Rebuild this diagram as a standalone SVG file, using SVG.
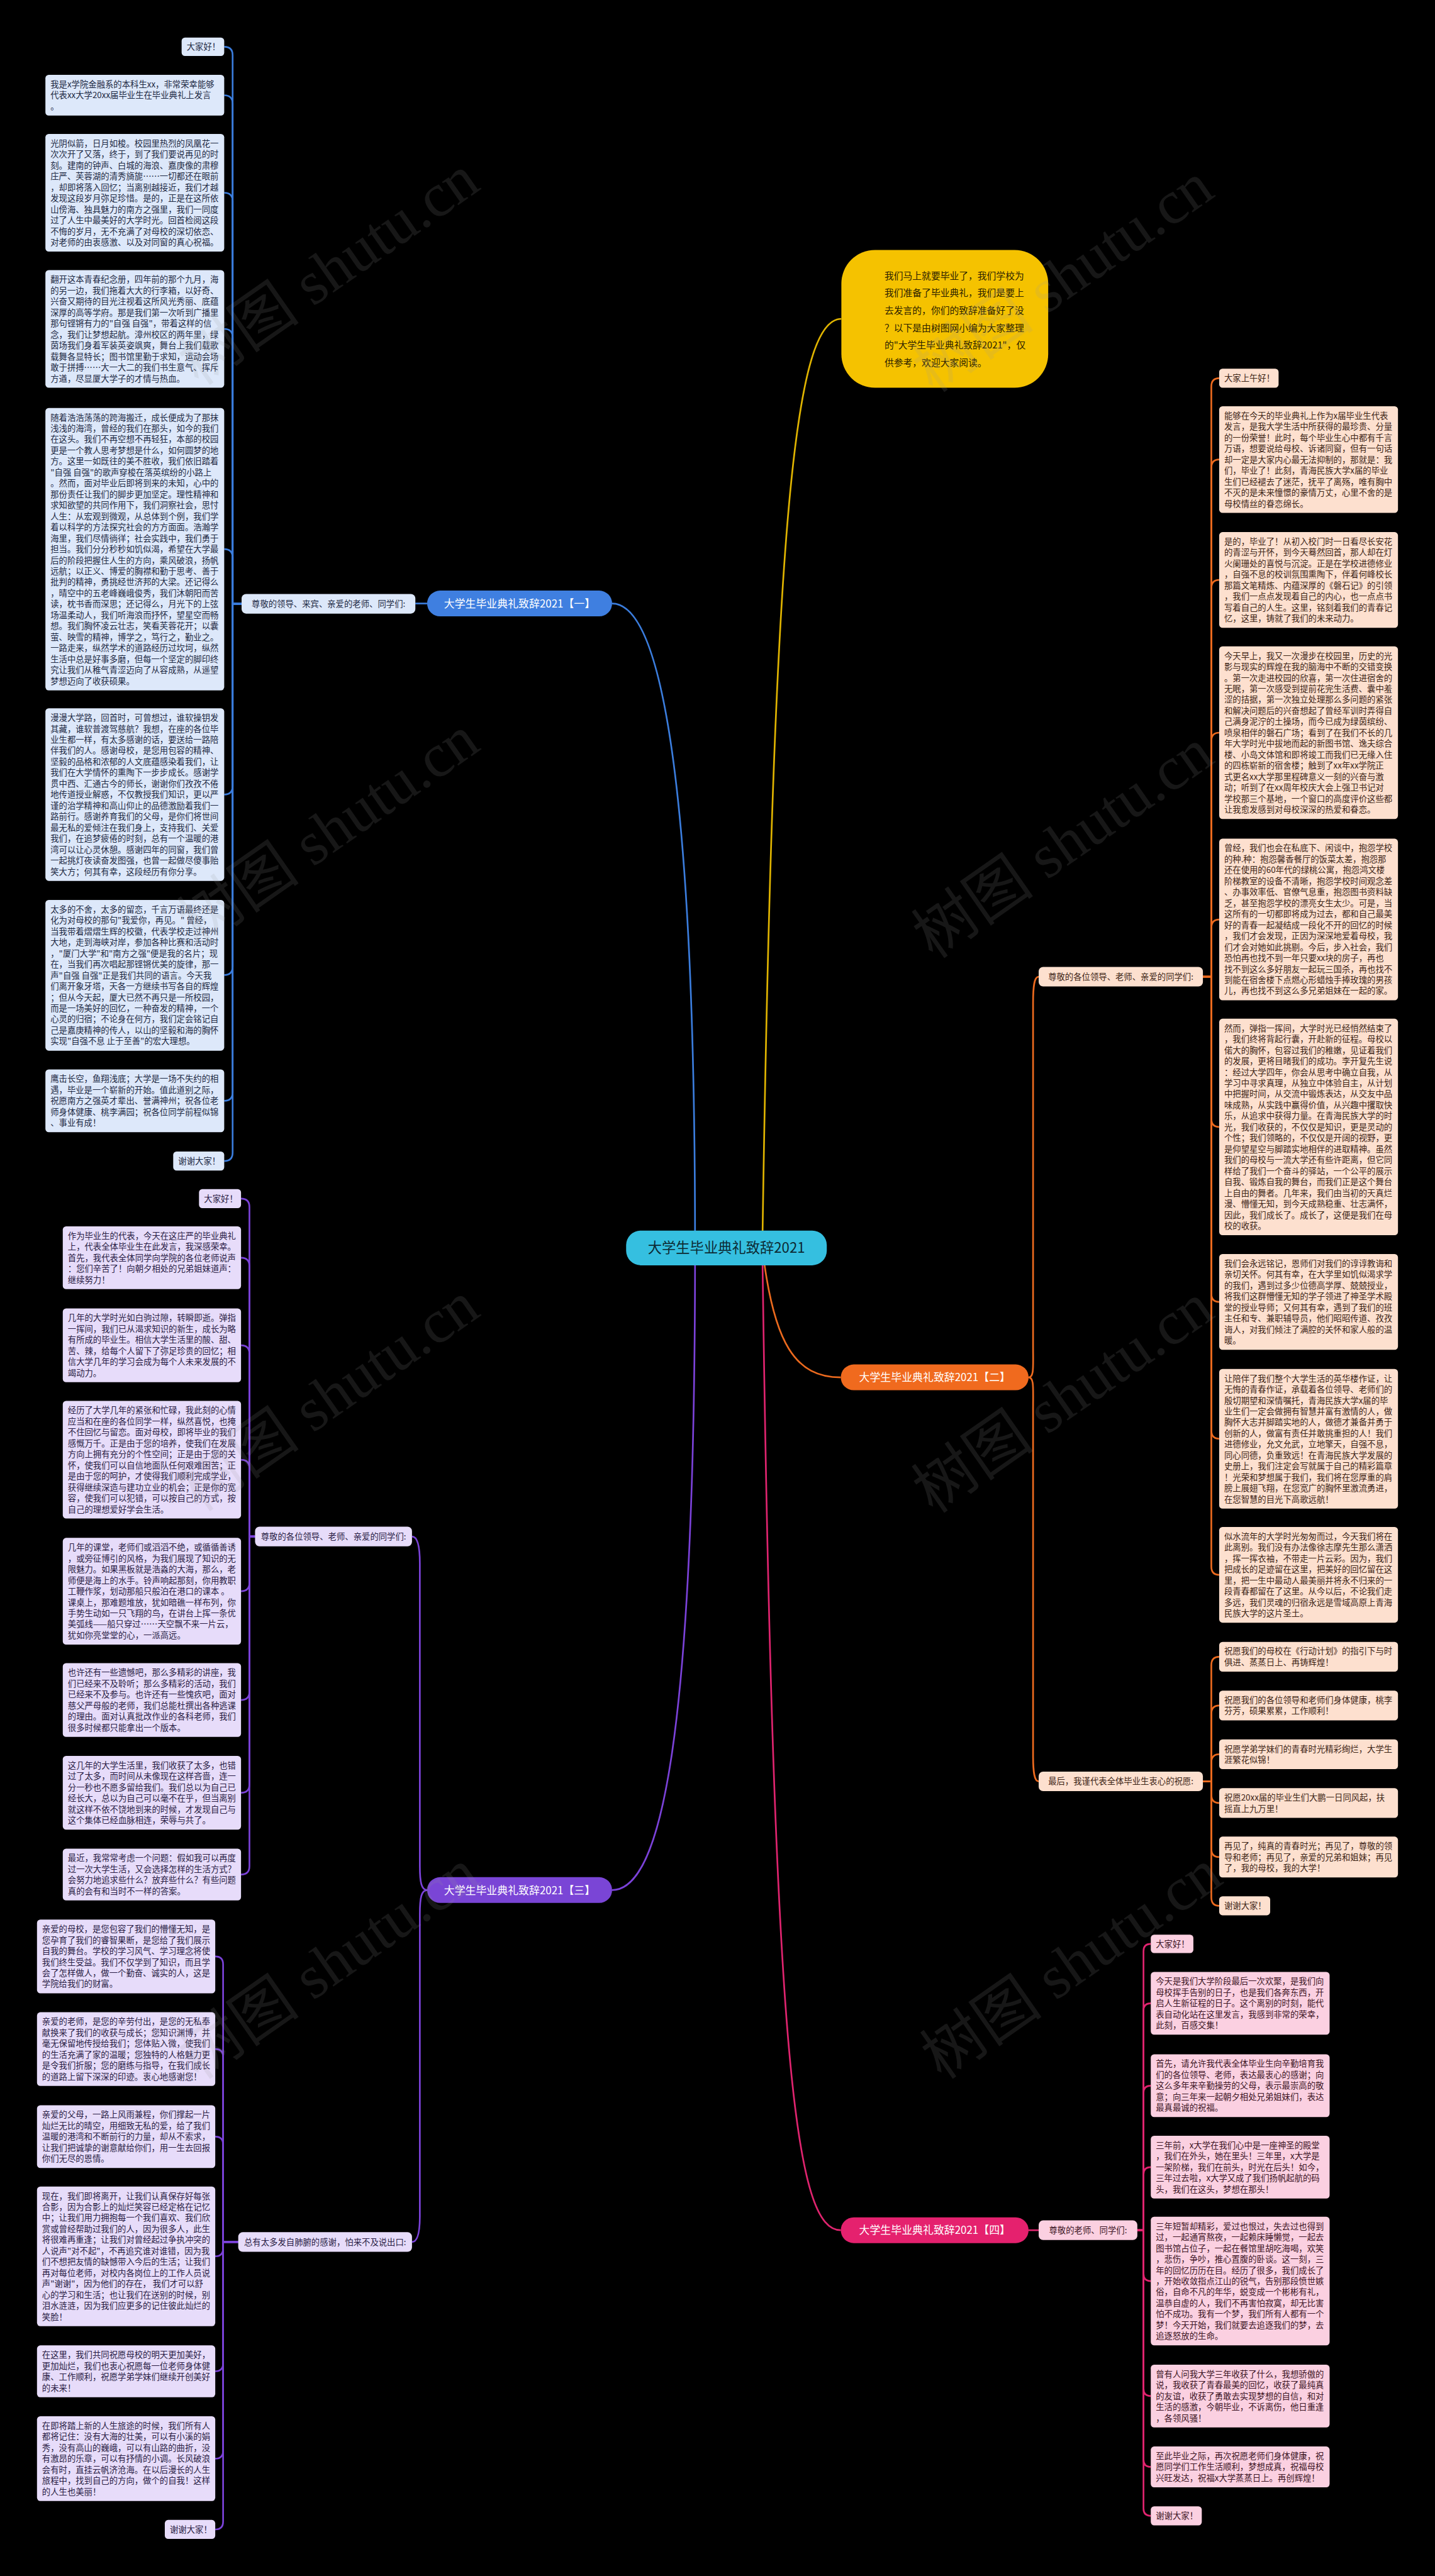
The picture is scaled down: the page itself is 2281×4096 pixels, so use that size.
<svg xmlns="http://www.w3.org/2000/svg" width="2281" height="4096" viewBox="0 0 2281 4096">
<style>
.t{font-family:"Noto Sans CJK SC","Noto Sans",sans-serif;font-size:15px}
.c1{fill:#1e2a44}.c2{fill:#3d2516}.c3{fill:#2a1d45}.c4{fill:#3d1525}
.b1{fill:#dde8fa}.b2{fill:#fde0cf}.b3{fill:#e7dcfa}.b4{fill:#fbd0e1}
.l1{stroke:#3b7ddd;stroke-width:3;fill:none}.l2{stroke:#ec6a1e;stroke-width:3;fill:none}
.l3{stroke:#7b42d9;stroke-width:3;fill:none}.l4{stroke:#e0246f;stroke-width:3;fill:none}
.l5{stroke:#e0b400;stroke-width:3;fill:none}
.pt{font-family:"Noto Sans CJK SC","Noto Sans",sans-serif;font-size:19px;fill:#ffffff;text-anchor:middle}
.lt{font-family:"Noto Sans CJK SC","Noto Sans",sans-serif;font-size:15px;text-anchor:middle}
.wm{font-family:"Liberation Serif","Noto Sans CJK SC",serif;font-size:110px;fill:#9a9a9a;opacity:0.15}
</style>
<rect x="0" y="0" width="2281" height="4096" fill="#000000"/>
<g transform="scale(0.891)">
<g id="connectors">
<path class="l1" d="M1240 2227 C1240 1400 1180 1077 1092 1077"/>
<path class="l3" d="M1240 2227 C1240 3100 1180 3373 1092 3373"/>
<path class="l2" d="M1360 2227 C1380 2400 1420 2458 1500 2458"/>
<path class="l4" d="M1360 2227 C1380 3700 1420 3980 1500 3980"/>
<path class="l5" d="M1360 2227 C1380 900 1420 569 1501 569"/>
<path class="l1" d="M762 1077 H741"/>
<path class="l4" d="M1835 3980 H1853"/>
<path class="l2" d="M1835 2458 C1845 2458 1843 2440 1843 2400 V1790 C1843 1760 1845 1743 1853 1743"/>
<path class="l2" d="M1835 2458 C1845 2458 1843 2476 1843 2516 V3132 C1843 3162 1845 3179 1853 3179"/>
<path class="l3" d="M762 3373 C752 3373 749 3360 749 3330 V2790 C749 2760 745 2742 735 2742"/>
<path class="l3" d="M762 3373 C752 3373 749 3386 749 3416 V3955 C749 3985 745 4001 735 4001"/>
<path class="l1" d="M431 1077.5 H415 V98.5 Q415 83.5 400 83.5"/>
<path class="l1" d="M431 1077.5 H415 V185 Q415 170 400 170"/>
<path class="l1" d="M431 1077.5 H415 V359 Q415 344 400 344"/>
<path class="l1" d="M431 1077.5 H415 V602 Q415 587 400 587"/>
<path class="l1" d="M431 1077.5 H415 V995 Q415 980 400 980"/>
<path class="l1" d="M431 1077.5 H415 V1403 Q415 1418 400 1418"/>
<path class="l1" d="M431 1077.5 H415 V1725 Q415 1740 400 1740"/>
<path class="l1" d="M431 1077.5 H415 V1949.5 Q415 1964.5 400 1964.5"/>
<path class="l1" d="M431 1077.5 H415 V2057 Q415 2072 400 2072"/>
<path class="l3" d="M455 2742 H445 V2154 Q445 2139 430 2139"/>
<path class="l3" d="M455 2742 H445 V2259.5 Q445 2244.5 430 2244.5"/>
<path class="l3" d="M455 2742 H445 V2415.8 Q445 2400.8 430 2400.8"/>
<path class="l3" d="M455 2742 H445 V2620 Q445 2605 430 2605"/>
<path class="l3" d="M455 2742 H445 V2824.7 Q445 2839.7 430 2839.7"/>
<path class="l3" d="M455 2742 H445 V3018.8 Q445 3033.8 430 3033.8"/>
<path class="l3" d="M455 2742 H445 V3184.3 Q445 3199.3 430 3199.3"/>
<path class="l3" d="M455 2742 H445 V3330.2 Q445 3345.2 430 3345.2"/>
<path class="l3" d="M425 4001 H398 V3505.5 Q398 3491.5 384 3491.5"/>
<path class="l3" d="M425 4001 H398 V3670.8 Q398 3656.8 384 3656.8"/>
<path class="l3" d="M425 4001 H398 V3827 Q398 3813 384 3813"/>
<path class="l3" d="M425 4001 H398 V4012.6 Q398 4026.6 384 4026.6"/>
<path class="l3" d="M425 4001 H398 V4217.8 Q398 4231.8 384 4231.8"/>
<path class="l3" d="M425 4001 H398 V4373.6 Q398 4387.6 384 4387.6"/>
<path class="l3" d="M425 4001 H398 V4500 Q398 4514 384 4514"/>
<path class="l2" d="M2146 1743 H2161 V690 Q2161 675 2175 675"/>
<path class="l2" d="M2146 1743 H2161 V835 Q2161 820 2175 820"/>
<path class="l2" d="M2146 1743 H2161 V1050 Q2161 1035 2175 1035"/>
<path class="l2" d="M2146 1743 H2161 V1322.5 Q2161 1307.5 2175 1307.5"/>
<path class="l2" d="M2146 1743 H2161 V1655.9 Q2161 1640.9 2175 1640.9"/>
<path class="l2" d="M2146 1743 H2161 V1996.2 Q2161 2011.2 2175 2011.2"/>
<path class="l2" d="M2146 1743 H2161 V2308.4 Q2161 2323.4 2175 2323.4"/>
<path class="l2" d="M2146 1743 H2161 V2552.6 Q2161 2567.6 2175 2567.6"/>
<path class="l2" d="M2146 1743 H2161 V2795.4 Q2161 2810.4 2175 2810.4"/>
<path class="l2" d="M2146 3179 H2161 V2971.6 Q2161 2956.6 2175 2956.6"/>
<path class="l2" d="M2146 3179 H2161 V3058.6 Q2161 3043.6 2175 3043.6"/>
<path class="l2" d="M2146 3179 H2161 V3145.6 Q2161 3130.6 2175 3130.6"/>
<path class="l2" d="M2146 3179 H2161 V3202.6 Q2161 3217.6 2175 3217.6"/>
<path class="l2" d="M2146 3179 H2161 V3299 Q2161 3314 2175 3314"/>
<path class="l2" d="M2146 3179 H2161 V3386 Q2161 3401 2175 3401"/>
<path class="l4" d="M2029 3980 H2040 V3482 Q2040 3469 2053 3469"/>
<path class="l4" d="M2029 3980 H2040 V3588 Q2040 3575 2053 3575"/>
<path class="l4" d="M2029 3980 H2040 V3735 Q2040 3722 2053 3722"/>
<path class="l4" d="M2029 3980 H2040 V3880.5 Q2040 3867.5 2053 3867.5"/>
<path class="l4" d="M2029 3980 H2040 V4057.8 Q2040 4070.8 2053 4070.8"/>
<path class="l4" d="M2029 3980 H2040 V4263 Q2040 4276 2053 4276"/>
<path class="l4" d="M2029 3980 H2040 V4389.4 Q2040 4402.4 2053 4402.4"/>
<path class="l4" d="M2029 3980 H2040 V4476.7 Q2040 4489.7 2053 4489.7"/>
</g>

<g id="center"><rect x="1117" y="2196" width="358" height="62" rx="26" fill="#35bfe0"/><text x="1296" y="2236" font-family="Noto Sans CJK SC,Noto Sans,sans-serif" font-size="25" fill="#0d2a33" text-anchor="middle">大学生毕业典礼致辞2021</text></g>

<g id="intro"><rect x="1501" y="446" width="369" height="246" rx="60" fill="#f5c200"/>
<text class="t" style="font-size:16.6px" fill="#2a2000" x="1578" y="498"><tspan x="1578">我们马上就要毕业了，我们学校为</tspan><tspan x="1578" dy="31">我们准备了毕业典礼，我们是要上</tspan><tspan x="1578" dy="31">去发言的，你们的致辞准备好了没</tspan><tspan x="1578" dy="31">？以下是由树图网小编为大家整理</tspan><tspan x="1578" dy="31">的"大学生毕业典礼致辞2021"，仅</tspan><tspan x="1578" dy="31">供参考，欢迎大家阅读。</tspan></text></g>

<g id="branch1"><rect x="762" y="1054" width="330" height="46" rx="23" fill="#3f7fe0"/><text class="pt" x="927" y="1084">大学生毕业典礼致辞2021【一】</text></g>
<g id="branch2"><rect x="1500" y="2435" width="335" height="46" rx="23" fill="#f06a1e"/><text class="pt" x="1667.5" y="2465">大学生毕业典礼致辞2021【二】</text></g>
<g id="branch3"><rect x="762" y="3350" width="330" height="46" rx="23" fill="#7a45d6"/><text class="pt" x="927" y="3380">大学生毕业典礼致辞2021【三】</text></g>
<g id="branch4"><rect x="1500" y="3957" width="335" height="46" rx="23" fill="#e5216e"/><text class="pt" x="1667.5" y="3987">大学生毕业典礼致辞2021【四】</text></g>

<g id="label1"><rect x="431" y="1060" width="310" height="35" rx="8" class="b1"/><text class="lt c1" x="586" y="1083">尊敬的领导、来宾、亲爱的老师、同学们:</text></g>
<g id="label2a"><rect x="1853" y="1725.5" width="293" height="35" rx="8" class="b2"/><text class="lt c2" x="1999.5" y="1748.5">尊敬的各位领导、老师、亲爱的同学们:</text></g>
<g id="label2b"><rect x="1853" y="3161.5" width="293" height="35" rx="8" class="b2"/><text class="lt c2" x="1999.5" y="3184.5">最后，我谨代表全体毕业生衷心的祝愿:</text></g>
<g id="label3a"><rect x="455" y="2724.5" width="280" height="35" rx="8" class="b3"/><text class="lt c3" x="595" y="2747.5">尊敬的各位领导、老师、亲爱的同学们:</text></g>
<g id="label3b"><rect x="425" y="3983.5" width="310" height="35" rx="8" class="b3"/><text class="lt c3" x="580" y="4006.5">总有太多发自肺腑的感谢，怕来不及说出口:</text></g>
<g id="label4"><rect x="1853" y="3962.5" width="176" height="35" rx="8" class="b4"/><text class="lt c4" x="1941" y="3985.5">尊敬的老师、同学们:</text></g>

<g id="n1-1"><rect x="324" y="67" width="76" height="33" rx="6" class="b1"/><text class="t c1" x="333" y="89">大家好！</text></g>
<g id="n1-2"><rect x="81" y="133.5" width="319" height="72.8" rx="6" class="b1"/><text class="t c1" x="90" y="155.8"><tspan x="90">我是x学院金融系的本科生xx，非常荣幸能够</tspan><tspan x="90" dy="19.6">代表xx大学20xx届毕业生在毕业典礼上发言</tspan><tspan x="90" dy="19.6">。</tspan></text></g>
<g id="n1-3"><rect x="81" y="239" width="319" height="210" rx="6" class="b1"/><text class="t c1" x="90" y="261.3"><tspan x="90">光阴似箭，日月如梭。校园里热烈的凤凰花一</tspan><tspan x="90" dy="19.6">次次开了又落，终于，到了我们要说再见的时</tspan><tspan x="90" dy="19.6">刻。建南的钟声、白城的海浪、嘉庚像的肃穆</tspan><tspan x="90" dy="19.6">庄严、芙蓉湖的清秀旖旎……一切都还在眼前</tspan><tspan x="90" dy="19.6">，却即将落入回忆；当离别越接近，我们才越</tspan><tspan x="90" dy="19.6">发现这段岁月弥足珍惜。是的，正是在这所依</tspan><tspan x="90" dy="19.6">山傍海、独具魅力的南方之强里，我们一同度</tspan><tspan x="90" dy="19.6">过了人生中最美好的大学时光。回首检阅这段</tspan><tspan x="90" dy="19.6">不悔的岁月，无不充满了对母校的深切依恋、</tspan><tspan x="90" dy="19.6">对老师的由衷感激、以及对同窗的真心祝福。</tspan></text></g>
<g id="n1-4"><rect x="81" y="482" width="319" height="210" rx="6" class="b1"/><text class="t c1" x="90" y="504.3"><tspan x="90">翻开这本青春纪念册，四年前的那个九月，海</tspan><tspan x="90" dy="19.6">的另一边，我们拖着大大的行李箱，以好奇、</tspan><tspan x="90" dy="19.6">兴奋又期待的目光注视着这所风光秀丽、底蕴</tspan><tspan x="90" dy="19.6">深厚的高等学府。那是我们第一次听到广播里</tspan><tspan x="90" dy="19.6">那句铿锵有力的"自强 自强"，带着这样的信</tspan><tspan x="90" dy="19.6">念，我们让梦想起航。漳州校区的两年里，绿</tspan><tspan x="90" dy="19.6">茵场我们身着军装英姿飒爽，舞台上我们载歌</tspan><tspan x="90" dy="19.6">载舞各显特长；图书馆里勤于求知，运动会场</tspan><tspan x="90" dy="19.6">敢于拼搏……大一大二的我们书生意气、挥斥</tspan><tspan x="90" dy="19.6">方遒，尽显厦大学子的才情与热血。</tspan></text></g>
<g id="n1-5"><rect x="81" y="728" width="319" height="504" rx="6" class="b1"/><text class="t c1" x="90" y="750.3"><tspan x="90">随着浩浩荡荡的跨海搬迁，成长便成为了那抹</tspan><tspan x="90" dy="19.6">浅浅的海湾，曾经的我们在那头，如今的我们</tspan><tspan x="90" dy="19.6">在这头。我们不再空想不再轻狂，本部的校园</tspan><tspan x="90" dy="19.6">更是一个教人思考梦想是什么，如何圆梦的地</tspan><tspan x="90" dy="19.6">方。这里一如既往的美不胜收，我们依旧踏着</tspan><tspan x="90" dy="19.6">"自强 自强"的歌声穿梭在落英缤纷的小路上</tspan><tspan x="90" dy="19.6">。然而，面对毕业后即将到来的未知，心中的</tspan><tspan x="90" dy="19.6">那份责任让我们的脚步更加坚定。理性精神和</tspan><tspan x="90" dy="19.6">求知欲望的共同作用下，我们洞察社会，思忖</tspan><tspan x="90" dy="19.6">人生：从宏观到微观，从总体到个例，我们学</tspan><tspan x="90" dy="19.6">着以科学的方法探究社会的方方面面。浩瀚学</tspan><tspan x="90" dy="19.6">海里，我们尽情徜徉；社会实践中，我们勇于</tspan><tspan x="90" dy="19.6">担当。我们分分秒秒如饥似渴，希望在大学最</tspan><tspan x="90" dy="19.6">后的阶段把握住人生的方向，乘风破浪，扬帆</tspan><tspan x="90" dy="19.6">远航；以正义、博爱的胸襟和勤于思考、善于</tspan><tspan x="90" dy="19.6">批判的精神，勇挑经世济邦的大梁。还记得么</tspan><tspan x="90" dy="19.6">，晴空中的五老峰巍峨俊秀，我们沐朝阳而苦</tspan><tspan x="90" dy="19.6">读，枕书香而深思；还记得么，月光下的上弦</tspan><tspan x="90" dy="19.6">场温柔动人，我们听海浪而抒怀，望星空而畅</tspan><tspan x="90" dy="19.6">想。我们胸怀凌云壮志，笑看芙蓉花开；以囊</tspan><tspan x="90" dy="19.6">萤、映雪的精神，博学之，笃行之，勤业之。</tspan><tspan x="90" dy="19.6">一路走来，纵然学术的道路经历过坎坷，纵然</tspan><tspan x="90" dy="19.6">生活中总是好事多磨，但每一个坚定的脚印终</tspan><tspan x="90" dy="19.6">究让我们从稚气青涩迈向了从容成熟，从遥望</tspan><tspan x="90" dy="19.6">梦想迈向了收获硕果。</tspan></text></g>
<g id="n1-6"><rect x="81" y="1264" width="319" height="308" rx="6" class="b1"/><text class="t c1" x="90" y="1286.3"><tspan x="90">漫漫大学路，回首时，可曾想过，谁软操钥发</tspan><tspan x="90" dy="19.6">其藏，谁软普渡驾慈航？我想，在座的各位毕</tspan><tspan x="90" dy="19.6">业生都一样，有太多感谢的话，要送给一路陪</tspan><tspan x="90" dy="19.6">伴我们的人。感谢母校，是您用包容的精神、</tspan><tspan x="90" dy="19.6">坚毅的品格和浓郁的人文底蕴感染着我们，让</tspan><tspan x="90" dy="19.6">我们在大学情怀的熏陶下一步步成长。感谢学</tspan><tspan x="90" dy="19.6">贯中西、汇通古今的师长，谢谢你们孜孜不倦</tspan><tspan x="90" dy="19.6">地传道授业解惑，不仅教授我们知识，更以严</tspan><tspan x="90" dy="19.6">谨的治学精神和高山仰止的品德激励着我们一</tspan><tspan x="90" dy="19.6">路前行。感谢养育我们的父母，是你们将世间</tspan><tspan x="90" dy="19.6">最无私的爱倾注在我们身上，支持我们、关爱</tspan><tspan x="90" dy="19.6">我们，在追梦疲倦的时刻，总有一个温暖的港</tspan><tspan x="90" dy="19.6">湾可以让心灵休憩。感谢四年的同窗，我们曾</tspan><tspan x="90" dy="19.6">一起挑灯夜读奋发图强，也曾一起做尽傻事贻</tspan><tspan x="90" dy="19.6">笑大方；何其有幸，这段经历有你分享。</tspan></text></g>
<g id="n1-7"><rect x="81" y="1606" width="319" height="269" rx="6" class="b1"/><text class="t c1" x="90" y="1628.3"><tspan x="90">太多的不舍，太多的留恋，千言万语最终还是</tspan><tspan x="90" dy="19.6">化为对母校的那句"我爱你，再见。" 曾经，</tspan><tspan x="90" dy="19.6">当我带着熠熠生辉的校徽，代表学校走过神州</tspan><tspan x="90" dy="19.6">大地，走到海峡对岸，参加各种比赛和活动时</tspan><tspan x="90" dy="19.6">，"厦门大学"和"南方之强"便是我的名片；现</tspan><tspan x="90" dy="19.6">在，当我们再次唱起那铿锵优美的旋律，那一</tspan><tspan x="90" dy="19.6">声"自强 自强"正是我们共同的语言。今天我</tspan><tspan x="90" dy="19.6">们离开象牙塔，天各一方继续书写各自的辉煌</tspan><tspan x="90" dy="19.6">；但从今天起，厦大已然不再只是一所校园，</tspan><tspan x="90" dy="19.6">而是一场美好的回忆，一种奋发的精神，一个</tspan><tspan x="90" dy="19.6">心灵的归宿；不论身在何方，我们定会铭记自</tspan><tspan x="90" dy="19.6">己是嘉庚精神的传人，以山的坚毅和海的胸怀</tspan><tspan x="90" dy="19.6">实现"自强不息 止于至善"的宏大理想。</tspan></text></g>
<g id="n1-8"><rect x="81" y="1908.5" width="319" height="112" rx="6" class="b1"/><text class="t c1" x="90" y="1930.8"><tspan x="90">鹰击长空，鱼翔浅底；大学是一场不失约的相</tspan><tspan x="90" dy="19.6">遇，毕业是一个崭新的开始。值此道别之际，</tspan><tspan x="90" dy="19.6">祝愿南方之强英才辈出、誉满神州；祝各位老</tspan><tspan x="90" dy="19.6">师身体健康、桃李满园；祝各位同学前程似锦</tspan><tspan x="90" dy="19.6">、事业有成！</tspan></text></g>
<g id="n1-9"><rect x="309" y="2055" width="91" height="34" rx="6" class="b1"/><text class="t c1" x="318" y="2077.5">谢谢大家！</text></g>

<g id="n3-1"><rect x="355" y="2122" width="75" height="34" rx="6" class="b3"/><text class="t c3" x="364" y="2144.5">大家好！</text></g>
<g id="n3-2"><rect x="112" y="2188.5" width="318" height="112" rx="6" class="b3"/><text class="t c3" x="121" y="2210.8"><tspan x="121">作为毕业生的代表，今天在这庄严的毕业典礼</tspan><tspan x="121" dy="19.6">上，代表全体毕业生在此发言，我深感荣幸。</tspan><tspan x="121" dy="19.6">首先，我代表全体同学向学院的各位老师说声</tspan><tspan x="121" dy="19.6">：您们辛苦了！向朝夕相处的兄弟姐妹道声：</tspan><tspan x="121" dy="19.6">继续努力！</tspan></text></g>
<g id="n3-3"><rect x="112" y="2335" width="318" height="131.6" rx="6" class="b3"/><text class="t c3" x="121" y="2357.3"><tspan x="121">几年的大学时光如白驹过隙，转瞬即逝。弹指</tspan><tspan x="121" dy="19.6">一挥间，我们已从渴求知识的新生，成长为略</tspan><tspan x="121" dy="19.6">有所成的毕业生。相信大学生活里的酸、甜、</tspan><tspan x="121" dy="19.6">苦、辣，给每个人留下了弥足珍贵的回忆；相</tspan><tspan x="121" dy="19.6">信大学几年的学习会成为每个人未来发展的不</tspan><tspan x="121" dy="19.6">竭动力。</tspan></text></g>
<g id="n3-4"><rect x="112" y="2500" width="318" height="210" rx="6" class="b3"/><text class="t c3" x="121" y="2522.3"><tspan x="121">经历了大学几年的紧张和忙碌，我此刻的心情</tspan><tspan x="121" dy="19.6">应当和在座的各位同学一样，纵然喜悦，也掩</tspan><tspan x="121" dy="19.6">不住回忆与留恋。面对母校，即将毕业的我们</tspan><tspan x="121" dy="19.6">感慨万千。正是由于您的培养，使我们在发展</tspan><tspan x="121" dy="19.6">方向上拥有充分的个性空间；正是由于您的关</tspan><tspan x="121" dy="19.6">怀，使我们可以自信地面队任何艰难困苦；正</tspan><tspan x="121" dy="19.6">是由于您的呵护，才使得我们顺利完成学业，</tspan><tspan x="121" dy="19.6">获得继续深造与建功立业的机会；正是你的宽</tspan><tspan x="121" dy="19.6">容，使我们可以犯错，可以按自己的方式，按</tspan><tspan x="121" dy="19.6">自己的理想爱好学会生活。</tspan></text></g>
<g id="n3-5"><rect x="112" y="2744.5" width="318" height="190.4" rx="6" class="b3"/><text class="t c3" x="121" y="2766.8"><tspan x="121">几年的课堂，老师们或滔滔不绝，或循循善诱</tspan><tspan x="121" dy="19.6">，或旁征博引的风格，为我们展现了知识的无</tspan><tspan x="121" dy="19.6">限魅力。如果黑板就是浩淼的大海，那么，老</tspan><tspan x="121" dy="19.6">师便是海上的水手。铃声响起那刻，你用教职</tspan><tspan x="121" dy="19.6">工鞭作浆，划动那船只般泊在港口的课本 。</tspan><tspan x="121" dy="19.6">课桌上，那难题堆放，犹如暗礁一样布列，你</tspan><tspan x="121" dy="19.6">手势生动如一只飞翔的鸟，在讲台上挥一条优</tspan><tspan x="121" dy="19.6">美弧线——船只穿过……天空飘不来一片云，</tspan><tspan x="121" dy="19.6">犹如你亮堂堂的心，一派高远。</tspan></text></g>
<g id="n3-6"><rect x="112" y="2968" width="318" height="131.6" rx="6" class="b3"/><text class="t c3" x="121" y="2990.3"><tspan x="121">也许还有一些遗憾吧，那么多精彩的讲座，我</tspan><tspan x="121" dy="19.6">们已经来不及聆听；那么多精彩的活动，我们</tspan><tspan x="121" dy="19.6">已经来不及参与。也许还有一些愧疚吧，面对</tspan><tspan x="121" dy="19.6">慈父严母般的老师，我们总能杜撰出各种逃课</tspan><tspan x="121" dy="19.6">的理由。面对认真批改作业的各科老师，我们</tspan><tspan x="121" dy="19.6">很多时候都只能拿出一个版本。</tspan></text></g>
<g id="n3-7"><rect x="112" y="3133.5" width="318" height="131.6" rx="6" class="b3"/><text class="t c3" x="121" y="3155.8"><tspan x="121">这几年的大学生活里，我们收获了太多，也错</tspan><tspan x="121" dy="19.6">过了太多，而时间从未像现在这样吝啬，连一</tspan><tspan x="121" dy="19.6">分一秒也不愿多留给我们。我们总以为自己已</tspan><tspan x="121" dy="19.6">经长大，总以为自己可以毫不在乎，但当离别</tspan><tspan x="121" dy="19.6">就这样不依不饶地到来的时候，才发现自己与</tspan><tspan x="121" dy="19.6">这个集体已经血脉相连，荣辱与共了。</tspan></text></g>
<g id="n3-8"><rect x="112" y="3299" width="318" height="92.4" rx="6" class="b3"/><text class="t c3" x="121" y="3321.3"><tspan x="121">最近，我常常考虑一个问题：假如我可以再度</tspan><tspan x="121" dy="19.6">过一次大学生活，又会选择怎样的生活方式？</tspan><tspan x="121" dy="19.6">会努力地追求些什么？放弃些什么？有些问题</tspan><tspan x="121" dy="19.6">真的会有和当时不一样的答案。</tspan></text></g>

<g id="n3-9"><rect x="66" y="3425.7" width="318" height="131.6" rx="6" class="b3"/><text class="t c3" x="75" y="3448"><tspan x="75">亲爱的母校，是您包容了我们的懵懂无知，是</tspan><tspan x="75" dy="19.6">您孕育了我们的睿智果断，是您给了我们展示</tspan><tspan x="75" dy="19.6">自我的舞台。学校的学习风气、学习理念将使</tspan><tspan x="75" dy="19.6">我们终生受益。我们不仅学到了知识，而且学</tspan><tspan x="75" dy="19.6">会了怎样做人，做一个勤奋、诚实的人，这是</tspan><tspan x="75" dy="19.6">学院给我们的财富。</tspan></text></g>
<g id="n3-10"><rect x="66" y="3591" width="318" height="131.6" rx="6" class="b3"/><text class="t c3" x="75" y="3613.3"><tspan x="75">亲爱的老师，是您的辛劳付出，是您的无私奉</tspan><tspan x="75" dy="19.6">献换来了我们的收获与成长；您知识渊博，并</tspan><tspan x="75" dy="19.6">毫无保留地传授给我们；您体贴入微，使我们</tspan><tspan x="75" dy="19.6">的生活充满了家的温暖；您独特的人格魅力更</tspan><tspan x="75" dy="19.6">是令我们折服；您的磨练与指导，在我们成长</tspan><tspan x="75" dy="19.6">的道路上留下深深的印迹。衷心地感谢您！</tspan></text></g>
<g id="n3-11"><rect x="66" y="3757" width="318" height="112" rx="6" class="b3"/><text class="t c3" x="75" y="3779.3"><tspan x="75">亲爱的父母，一路上风雨兼程，你们撑起一片</tspan><tspan x="75" dy="19.6">灿烂无比的晴空，用细致无私的爱，给了我们</tspan><tspan x="75" dy="19.6">温暖的港湾和不断前行的力量，却从不索求，</tspan><tspan x="75" dy="19.6">让我们把诚挚的谢意献给你们，用一生去回报</tspan><tspan x="75" dy="19.6">你们无尽的恩情。</tspan></text></g>
<g id="n3-12"><rect x="66" y="3902" width="318" height="249.2" rx="6" class="b3"/><text class="t c3" x="75" y="3924.3"><tspan x="75">现在，我们即将离开，让我们认真保存好每张</tspan><tspan x="75" dy="19.6">合影，因为合影上的灿烂笑容已经定格在记忆</tspan><tspan x="75" dy="19.6">中；让我们用力拥抱每一个我们喜欢、我们欣</tspan><tspan x="75" dy="19.6">赏或曾经帮助过我们的人，因为很多人，此生</tspan><tspan x="75" dy="19.6">将很难再重逢；让我们对曾经起过争执冲突的</tspan><tspan x="75" dy="19.6">人说声"对不起"，不再追究谁对谁错，因为我</tspan><tspan x="75" dy="19.6">们不想把友情的缺憾带入今后的生活；让我们</tspan><tspan x="75" dy="19.6">再对每位老师，对校内各岗位上的工作人员说</tspan><tspan x="75" dy="19.6">声"谢谢"，因为他们的存在， 我们才可以舒</tspan><tspan x="75" dy="19.6">心的学习和生活；也让我们在送别的时候，别</tspan><tspan x="75" dy="19.6">泪水涟涟，因为我们应更多的记住彼此灿烂的</tspan><tspan x="75" dy="19.6">笑脸！</tspan></text></g>
<g id="n3-13"><rect x="66" y="4185.6" width="318" height="92.4" rx="6" class="b3"/><text class="t c3" x="75" y="4207.9"><tspan x="75">在这里，我们共同祝愿母校的明天更加美好，</tspan><tspan x="75" dy="19.6">更加灿烂，我们也衷心祝愿每一位老师身体健</tspan><tspan x="75" dy="19.6">康、工作顺利，祝愿学弟学妹们继续开创美好</tspan><tspan x="75" dy="19.6">的未来！</tspan></text></g>
<g id="n3-14"><rect x="66" y="4312" width="318" height="151.2" rx="6" class="b3"/><text class="t c3" x="75" y="4334.3"><tspan x="75">在即将踏上新的人生旅途的时候，我们所有人</tspan><tspan x="75" dy="19.6">都将记住：没有大海的壮美，可以有小溪的娟</tspan><tspan x="75" dy="19.6">秀，没有高山的巍峨，可以有山路的曲折，没</tspan><tspan x="75" dy="19.6">有激昂的乐章，可以有抒情的小调。长风破浪</tspan><tspan x="75" dy="19.6">会有时，直挂云帆济沧海。在以后漫长的人生</tspan><tspan x="75" dy="19.6">旅程中，找到自己的方向，做个的自我！这样</tspan><tspan x="75" dy="19.6">的人生也美丽！</tspan></text></g>
<g id="n3-15"><rect x="294" y="4497" width="90" height="34" rx="6" class="b3"/><text class="t c3" x="303" y="4519.5">谢谢大家！</text></g>

<g id="n2-1"><rect x="2175" y="658" width="106" height="34" rx="6" class="b2"/><text class="t c2" x="2184" y="680.5">大家上午好！</text></g>
<g id="n2-2"><rect x="2175" y="725" width="319" height="190.4" rx="6" class="b2"/><text class="t c2" x="2184" y="747.3"><tspan x="2184">能够在今天的毕业典礼上作为x届毕业生代表</tspan><tspan x="2184" dy="19.6">发言，是我大学生活中所获得的最珍贵、分量</tspan><tspan x="2184" dy="19.6">的一份荣誉！此时，每个毕业生心中都有千言</tspan><tspan x="2184" dy="19.6">万语，想要说给母校、诉诸同窗，但有一句话</tspan><tspan x="2184" dy="19.6">却一定是大家内心最无法抑制的，那就是：我</tspan><tspan x="2184" dy="19.6">们，毕业了！此刻，青海民族大学x届的毕业</tspan><tspan x="2184" dy="19.6">生们已经褪去了迷茫，抚平了离殇，唯有胸中</tspan><tspan x="2184" dy="19.6">不灭的是未来憧憬的豪情万丈，心里不舍的是</tspan><tspan x="2184" dy="19.6">母校情丝的眷恋绵长。</tspan></text></g>
<g id="n2-3"><rect x="2175" y="949.6" width="319" height="170.8" rx="6" class="b2"/><text class="t c2" x="2184" y="971.9"><tspan x="2184">是的，毕业了！从初入校门时一日看尽长安花</tspan><tspan x="2184" dy="19.6">的青涩与开怀，到今天蓦然回首，那人却在灯</tspan><tspan x="2184" dy="19.6">火阑珊处的喜悦与沉淀。正是在学校进德修业</tspan><tspan x="2184" dy="19.6">，自强不息的校训氛围熏陶下，伴着何峰校长</tspan><tspan x="2184" dy="19.6">那篇文笔精炼、内蕴深厚的《磐石记》的引领</tspan><tspan x="2184" dy="19.6">，我们一点点发现着自己的内心，也一点点书</tspan><tspan x="2184" dy="19.6">写着自己的人生。这里，铭刻着我们的青春记</tspan><tspan x="2184" dy="19.6">忆，这里，铸就了我们的未来动力。</tspan></text></g>
<g id="n2-4"><rect x="2175" y="1153.5" width="319" height="308" rx="6" class="b2"/><text class="t c2" x="2184" y="1175.8"><tspan x="2184">今天早上，我又一次漫步在校园里，历史的光</tspan><tspan x="2184" dy="19.6">影与现实的辉煌在我的脑海中不断的交错变换</tspan><tspan x="2184" dy="19.6">。第一次走进校园的欣喜，第一次住进宿舍的</tspan><tspan x="2184" dy="19.6">无眠，第一次感受到提前花完生活费、囊中羞</tspan><tspan x="2184" dy="19.6">涩的拮据，第一次独立处理那么多问题的紧张</tspan><tspan x="2184" dy="19.6">和解决问题后的兴奋想起了曾经军训时弄得自</tspan><tspan x="2184" dy="19.6">己满身泥泞的土操场，而今已成为绿茵缤纷、</tspan><tspan x="2184" dy="19.6">喷泉相伴的磐石广场；看到了在我们不长的几</tspan><tspan x="2184" dy="19.6">年大学时光中拔地而起的新图书馆、逸夫综合</tspan><tspan x="2184" dy="19.6">楼、小岛文体馆和即将竣工而我们已无缘入住</tspan><tspan x="2184" dy="19.6">的四栋崭新的宿舍楼；触到了xx年xx学院正</tspan><tspan x="2184" dy="19.6">式更名xx大学那里程碑意义一刻的兴奋与激</tspan><tspan x="2184" dy="19.6">动；听到了在xx周年校庆大会上强卫书记对</tspan><tspan x="2184" dy="19.6">学校那三个基地，一个窗口的高度评价这些都</tspan><tspan x="2184" dy="19.6">让我愈发感到对母校深深的热爱和眷恋。</tspan></text></g>
<g id="n2-5"><rect x="2175" y="1496.7" width="319" height="288.4" rx="6" class="b2"/><text class="t c2" x="2184" y="1519"><tspan x="2184">曾经，我们也会在私底下、闲谈中，抱怨学校</tspan><tspan x="2184" dy="19.6">的种.种：抱怨馨香餐厅的饭菜太差，抱怨那</tspan><tspan x="2184" dy="19.6">还在使用的60年代的绿桃公寓，抱怨鸿文楼</tspan><tspan x="2184" dy="19.6">阶梯教室的设备不清晰，抱怨学校时间观念差</tspan><tspan x="2184" dy="19.6">、办事效率低、官僚气息重，抱怨图书资料缺</tspan><tspan x="2184" dy="19.6">乏，甚至抱怨学校的漂亮女生太少。可是，当</tspan><tspan x="2184" dy="19.6">这所有的一切都即将成为过去，都和自己最美</tspan><tspan x="2184" dy="19.6">好的青春一起凝结成一段化不开的回忆的时候</tspan><tspan x="2184" dy="19.6">，我们才会发现，正因为深深地爱着母校，我</tspan><tspan x="2184" dy="19.6">们才会对她如此挑剔。今后，步入社会，我们</tspan><tspan x="2184" dy="19.6">恐怕再也找不到一年只要xx块的房子，再也</tspan><tspan x="2184" dy="19.6">找不到这么多好朋友一起玩三国杀，再也找不</tspan><tspan x="2184" dy="19.6">到能在宿舍楼下点燃心形蜡烛手捧玫瑰的男孩</tspan><tspan x="2184" dy="19.6">儿，再也找不到这么多兄弟姐妹在一起的家。</tspan></text></g>
<g id="n2-6"><rect x="2175" y="1818" width="319" height="386.4" rx="6" class="b2"/><text class="t c2" x="2184" y="1840.3"><tspan x="2184">然而，弹指一挥间，大学时光已经悄然结束了</tspan><tspan x="2184" dy="19.6">，我们终将背起行囊，开赴新的征程。母校以</tspan><tspan x="2184" dy="19.6">偌大的胸怀，包容过我们的稚嫩，见证着我们</tspan><tspan x="2184" dy="19.6">的发展，更将目睹我们的成功。李开复先生说</tspan><tspan x="2184" dy="19.6">：经过大学四年，你会从思考中确立自我，从</tspan><tspan x="2184" dy="19.6">学习中寻求真理，从独立中体验自主，从计划</tspan><tspan x="2184" dy="19.6">中把握时间，从交流中锻炼表达，从交友中品</tspan><tspan x="2184" dy="19.6">味成熟，从实践中赢得价值，从兴趣中攫取快</tspan><tspan x="2184" dy="19.6">乐，从追求中获得力量。在青海民族大学的时</tspan><tspan x="2184" dy="19.6">光，我们收获的，不仅仅是知识，更是灵动的</tspan><tspan x="2184" dy="19.6">个性；我们领略的，不仅仅是开阔的视野，更</tspan><tspan x="2184" dy="19.6">是仰望星空与脚踏实地相伴的进取精神。虽然</tspan><tspan x="2184" dy="19.6">我们的母校与一流大学还有些许距离，但它同</tspan><tspan x="2184" dy="19.6">样给了我们一个奋斗的驿站，一个公平的展示</tspan><tspan x="2184" dy="19.6">自我、锻炼自我的舞台，而我们正是这个舞台</tspan><tspan x="2184" dy="19.6">上自由的舞者。几年来，我们由当初的天真烂</tspan><tspan x="2184" dy="19.6">漫、懵懂无知，到今天成熟稳重、壮志满怀，</tspan><tspan x="2184" dy="19.6">因此，我们成长了。成长了，这便是我们在母</tspan><tspan x="2184" dy="19.6">校的收获。</tspan></text></g>
<g id="n2-7"><rect x="2175" y="2238" width="319" height="170.8" rx="6" class="b2"/><text class="t c2" x="2184" y="2260.3"><tspan x="2184">我们会永远铭记，恩师们对我们的谆谆教诲和</tspan><tspan x="2184" dy="19.6">亲切关怀。何其有幸，在大学里如饥似渴求学</tspan><tspan x="2184" dy="19.6">的我们，遇到过多少位德高学厚、兢兢授业，</tspan><tspan x="2184" dy="19.6">将我们这群懵懂无知的学子领进了神圣学术殿</tspan><tspan x="2184" dy="19.6">堂的授业导师；又何其有幸，遇到了我们的班</tspan><tspan x="2184" dy="19.6">主任和专、兼职辅导员，他们昭昭传道、孜孜</tspan><tspan x="2184" dy="19.6">诲人，对我们倾注了满腔的关怀和家人般的温</tspan><tspan x="2184" dy="19.6">暖。</tspan></text></g>
<g id="n2-8"><rect x="2175" y="2443" width="319" height="249.2" rx="6" class="b2"/><text class="t c2" x="2184" y="2465.3"><tspan x="2184">让陪伴了我们整个大学生活的英华楼作证，让</tspan><tspan x="2184" dy="19.6">无悔的青春作证，承载着各位领导、老师们的</tspan><tspan x="2184" dy="19.6">殷切期望和深情嘱托，青海民族大学x届的毕</tspan><tspan x="2184" dy="19.6">业生们一定会做拥有智慧并富有激情的人，做</tspan><tspan x="2184" dy="19.6">胸怀大志并脚踏实地的人，做德才兼备并勇于</tspan><tspan x="2184" dy="19.6">创新的人，做富有责任并敢挑重担的人！我们</tspan><tspan x="2184" dy="19.6">进德修业，允文允武，立地擎天，自强不息，</tspan><tspan x="2184" dy="19.6">同心同德，负重致远！在青海民族大学发展的</tspan><tspan x="2184" dy="19.6">史册上，我们注定会写就属于自己的精彩篇章</tspan><tspan x="2184" dy="19.6">！光荣和梦想属于我们，我们将在您厚重的肩</tspan><tspan x="2184" dy="19.6">膀上展翅飞翔，在您宽广的胸怀里激流勇进，</tspan><tspan x="2184" dy="19.6">在您智慧的目光下高歌远航！</tspan></text></g>
<g id="n2-9"><rect x="2175" y="2725" width="319" height="170.8" rx="6" class="b2"/><text class="t c2" x="2184" y="2747.3"><tspan x="2184">似水流年的大学时光匆匆而过，今天我们将在</tspan><tspan x="2184" dy="19.6">此离别。我们没有办法像徐志摩先生那么潇洒</tspan><tspan x="2184" dy="19.6">，挥一挥衣袖，不带走一片云彩。因为，我们</tspan><tspan x="2184" dy="19.6">把成长的足迹留在这里，把美好的回忆留在这</tspan><tspan x="2184" dy="19.6">里，把一生中最动人最美丽并将永不归来的一</tspan><tspan x="2184" dy="19.6">段青春都留在了这里。从今以后，不论我们走</tspan><tspan x="2184" dy="19.6">多远，我们灵魂的归宿永远是雪域高原上青海</tspan><tspan x="2184" dy="19.6">民族大学的这片圣土。</tspan></text></g>

<g id="n2-10"><rect x="2175" y="2930" width="319" height="53.2" rx="6" class="b2"/><text class="t c2" x="2184" y="2952.3"><tspan x="2184">祝愿我们的母校在《行动计划》的指引下与时</tspan><tspan x="2184" dy="19.6">俱进、蒸蒸日上、再铸辉煌！</tspan></text></g>
<g id="n2-11"><rect x="2175" y="3017" width="319" height="53.2" rx="6" class="b2"/><text class="t c2" x="2184" y="3039.3"><tspan x="2184">祝愿我们的各位领导和老师们身体健康，桃李</tspan><tspan x="2184" dy="19.6">芬芳，硕果累累，工作顺利！</tspan></text></g>
<g id="n2-12"><rect x="2175" y="3104" width="319" height="53.2" rx="6" class="b2"/><text class="t c2" x="2184" y="3126.3"><tspan x="2184">祝愿学弟学妹们的青春时光精彩绚烂，大学生</tspan><tspan x="2184" dy="19.6">涯繁花似锦！</tspan></text></g>
<g id="n2-13"><rect x="2175" y="3191" width="319" height="53.2" rx="6" class="b2"/><text class="t c2" x="2184" y="3213.3"><tspan x="2184">祝愿20xx届的毕业生们大鹏一日同风起，扶</tspan><tspan x="2184" dy="19.6">摇直上九万里！</tspan></text></g>
<g id="n2-14"><rect x="2175" y="3277.6" width="319" height="72.8" rx="6" class="b2"/><text class="t c2" x="2184" y="3299.9"><tspan x="2184">再见了，纯真的青春时光；再见了，尊敬的领</tspan><tspan x="2184" dy="19.6">导和老师；再见了，亲爱的兄弟和姐妹；再见</tspan><tspan x="2184" dy="19.6">了，我的母校，我的大学！</tspan></text></g>
<g id="n2-15"><rect x="2175" y="3384" width="91" height="34" rx="6" class="b2"/><text class="t c2" x="2184" y="3406.5">谢谢大家！</text></g>

<g id="n4-1"><rect x="2053" y="3452.5" width="76" height="33" rx="6" class="b4"/><text class="t c4" x="2062" y="3474.5">大家好！</text></g>
<g id="n4-2"><rect x="2053" y="3519" width="319" height="112" rx="6" class="b4"/><text class="t c4" x="2062" y="3541.3"><tspan x="2062">今天是我们大学阶段最后一次欢聚，是我们向</tspan><tspan x="2062" dy="19.6">母校挥手告别的日子，也是我们各奔东西，开</tspan><tspan x="2062" dy="19.6">启人生新征程的日子。这个离别的时刻，能代</tspan><tspan x="2062" dy="19.6">表自动化站在这里发言，我感到非常的荣幸，</tspan><tspan x="2062" dy="19.6">此刻，百感交集！</tspan></text></g>
<g id="n4-3"><rect x="2053" y="3666" width="319" height="112" rx="6" class="b4"/><text class="t c4" x="2062" y="3688.3"><tspan x="2062">首先，请允许我代表全体毕业生向辛勤培育我</tspan><tspan x="2062" dy="19.6">们的各位领导、老师，表达最衷心的感谢；向</tspan><tspan x="2062" dy="19.6">这么多年来辛勤操劳的父母，表示最崇高的敬</tspan><tspan x="2062" dy="19.6">意；向三年来一起朝夕相处兄弟姐妹们，表达</tspan><tspan x="2062" dy="19.6">最真最诚的祝福。</tspan></text></g>
<g id="n4-4"><rect x="2053" y="3811.5" width="319" height="112" rx="6" class="b4"/><text class="t c4" x="2062" y="3833.8"><tspan x="2062">三年前，x大学在我们心中是一座神圣的殿堂</tspan><tspan x="2062" dy="19.6">，我们在外头，她在里头！三年里，x大学是</tspan><tspan x="2062" dy="19.6">一架阶梯，我们在前头，时光在后头！如今，</tspan><tspan x="2062" dy="19.6">三年过去啦，x大学又成了我们扬帆起航的码</tspan><tspan x="2062" dy="19.6">头，我们在这头，梦想在那头！</tspan></text></g>
<g id="n4-5"><rect x="2053" y="3956" width="319" height="229.6" rx="6" class="b4"/><text class="t c4" x="2062" y="3978.3"><tspan x="2062">三年短暂却精彩，爱过也恨过，失去过也得到</tspan><tspan x="2062" dy="19.6">过，一起通宵熬夜，一起赖床睡懒觉，一起去</tspan><tspan x="2062" dy="19.6">图书馆占位子，一起在餐馆里胡吃海喝，欢笑</tspan><tspan x="2062" dy="19.6">，悲伤，争吵，推心置腹的卧谈。这一刻，三</tspan><tspan x="2062" dy="19.6">年的回忆历历在目。经历了很多，我们成长了</tspan><tspan x="2062" dy="19.6">，开始收敛指点江山的锐气，告别那段愤世嫉</tspan><tspan x="2062" dy="19.6">俗，自命不凡的年华，蜕变成一个彬彬有礼，</tspan><tspan x="2062" dy="19.6">温恭自虚的人，我们不再害怕寂寞，却无比害</tspan><tspan x="2062" dy="19.6">怕不成功。我有一个梦，我们所有人都有一个</tspan><tspan x="2062" dy="19.6">梦！今天开始，我们就要去追逐我们的梦，去</tspan><tspan x="2062" dy="19.6">追逐怒放的生命。</tspan></text></g>
<g id="n4-6"><rect x="2053" y="4220" width="319" height="112" rx="6" class="b4"/><text class="t c4" x="2062" y="4242.3"><tspan x="2062">曾有人问我大学三年收获了什么，我想骄傲的</tspan><tspan x="2062" dy="19.6">说，我收获了青春最美的回忆，收获了最纯真</tspan><tspan x="2062" dy="19.6">的友谊，收获了勇敢去实现梦想的自信，和对</tspan><tspan x="2062" dy="19.6">生活的感激，今朝毕业，不诉离伤，他日重逢</tspan><tspan x="2062" dy="19.6">，各领风骚！</tspan></text></g>
<g id="n4-7"><rect x="2053" y="4366" width="319" height="72.8" rx="6" class="b4"/><text class="t c4" x="2062" y="4388.3"><tspan x="2062">至此毕业之际，再次祝愿老师们身体健康，祝</tspan><tspan x="2062" dy="19.6">愿同学们工作生活顺利，梦想成真，祝福母校</tspan><tspan x="2062" dy="19.6">兴旺发达，祝福x大学蒸蒸日上。再创辉煌！</tspan></text></g>
<g id="n4-8"><rect x="2053" y="4472.7" width="91" height="34" rx="6" class="b4"/><text class="t c4" x="2062" y="4495.2">谢谢大家！</text></g>

<g id="watermark">
<text class="wm" x="355" y="690" transform="rotate(-35 355 690)">树图 shutu.cn</text>
<text class="wm" x="1665" y="703" transform="rotate(-35 1665 703)">树图 shutu.cn</text>
<text class="wm" x="355" y="1690" transform="rotate(-35 355 1690)">树图 shutu.cn</text>
<text class="wm" x="1665" y="1713" transform="rotate(-35 1665 1713)">树图 shutu.cn</text>
<text class="wm" x="355" y="2700" transform="rotate(-35 355 2700)">树图 shutu.cn</text>
<text class="wm" x="1665" y="2703" transform="rotate(-35 1665 2703)">树图 shutu.cn</text>
<text class="wm" x="355" y="3713" transform="rotate(-35 355 3713)">树图 shutu.cn</text>
<text class="wm" x="1680" y="3713" transform="rotate(-35 1680 3713)">树图 shutu.cn</text>
</g>
</g>
</svg>
